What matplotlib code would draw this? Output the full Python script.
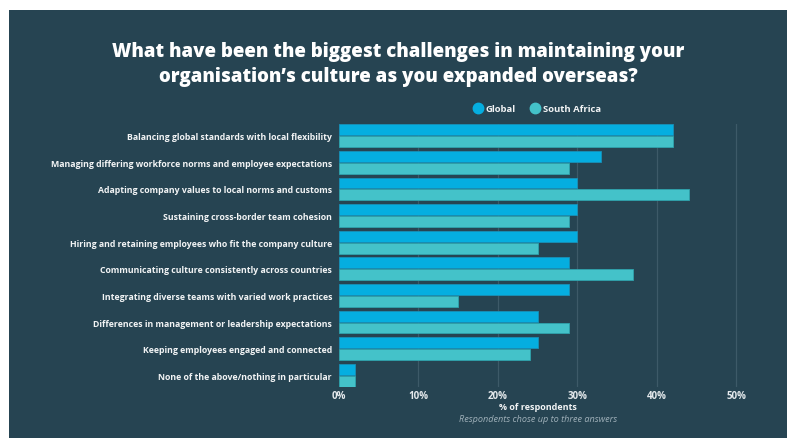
import matplotlib
matplotlib.use("Agg")
import matplotlib.pyplot as plt
from matplotlib.lines import Line2D
from matplotlib.patches import Rectangle
import numpy as np

categories = [
    "Balancing global standards with local flexibility",
    "Managing differing workforce norms and employee expectations",
    "Adapting company values to local norms and customs",
    "Sustaining cross-border team cohesion",
    "Hiring and retaining employees who fit the company culture",
    "Communicating culture consistently across countries",
    "Integrating diverse teams with varied work practices",
    "Differences in management or leadership expectations",
    "Keeping employees engaged and connected",
    "None of the above/nothing in particular",
]
global_vals = [42, 33, 30, 30, 30, 29, 29, 25, 25, 2]
south_africa_vals = [42, 29, 44, 29, 25, 37, 15, 29, 24, 2]
series_names = ["Global", "South Africa"]
x_ticks = [0, 10, 20, 30, 40, 50]
x_tick_labels = ["0%", "10%", "20%", "30%", "40%", "50%"]

BG = "#264452"
C_GLOBAL = "#05aee0"
C_SA = "#44c2c9"
GRID = "#3d5a68"
TEXT = "#f2f4f5"
FONT = ["Open Sans", "DejaVu Sans"]

W, H = 790, 439
fig = plt.figure(figsize=(W / 100, H / 100), dpi=100, facecolor="white")
plt.rcParams["font.family"] = FONT

# dark panel behind everything
fig.patches.append(Rectangle((9 / W, 0), (787 - 9) / W, (H - 11) / H,
                             transform=fig.transFigure, facecolor=BG,
                             edgecolor="none", zorder=-10))


def px(x, y):
    return x / W, 1 - y / H


left, right = 339, 776
top, bottom = 125, 388
ax = fig.add_axes([left / W, 1 - bottom / H, (right - left) / W, (bottom - top) / H])
ax.set_facecolor("none")

y = np.arange(len(categories))
h = 0.41
ax.barh(y - h / 2 - 0.015, global_vals, height=h, color=C_GLOBAL,
        edgecolor="#1890b8", linewidth=0.6, zorder=3)
ax.barh(y + h / 2 + 0.015, south_africa_vals, height=h, color=C_SA,
        edgecolor="#2fa3ad", linewidth=0.6, zorder=3)

ax.set_ylim(len(categories) - 1 + 0.435, -0.435)
ax.set_xlim(0, 55)
ax.set_xticks(x_ticks)
ax.set_xticklabels(x_tick_labels)
ax.set_yticks(y)
ax.set_yticklabels(categories)
for t in ax.get_yticklabels():
    t.set_fontweight("bold")
    t.set_fontsize(6.3)
    t.set_color(TEXT)
for t in ax.get_xticklabels():
    t.set_fontweight("bold")
    t.set_fontsize(7.0)
    t.set_color("#e4e9ec")
ax.tick_params(axis="both", length=0)
ax.tick_params(axis="y", pad=5)
ax.tick_params(axis="x", pad=2)
for s in ax.spines.values():
    s.set_visible(False)
for xv in x_ticks[1:]:
    ax.axvline(xv, color=GRID, linewidth=0.9, zorder=1)

fig.text(*px(398, 52), "What have been the biggest challenges in maintaining your",
         ha="center", va="center", fontsize=13.4, fontweight="heavy", color="white")
fig.text(*px(398, 77), "organisation\u2019s culture as you expanded overseas?",
         ha="center", va="center", fontsize=13.4, fontweight="heavy", color="white")

handles = [Line2D([], [], marker="o", linestyle="none", markersize=7.5,
                  markerfacecolor=c, markeredgecolor=c) for c in (C_GLOBAL, C_SA)]
leg = fig.legend(handles, series_names, loc="center left",
                 bbox_to_anchor=px(473, 110), ncol=2, frameon=False,
                 handletextpad=0.3, columnspacing=1.6, handlelength=1.0,
                 borderaxespad=0, borderpad=0,
                 prop={"family": FONT, "weight": "bold", "size": 6.8})
for t in leg.get_texts():
    t.set_color(TEXT)

fig.text(*px(538, 408), "% of respondents", ha="center", va="center",
         fontsize=6.5, fontweight="bold", color=TEXT)
fig.text(*px(538, 420), "Respondents chose up to three answers", ha="center",
         va="center", fontsize=6.6, fontstyle="italic", color="#9fb0b9")

fig.savefig("out.png", dpi=100, facecolor="white")
